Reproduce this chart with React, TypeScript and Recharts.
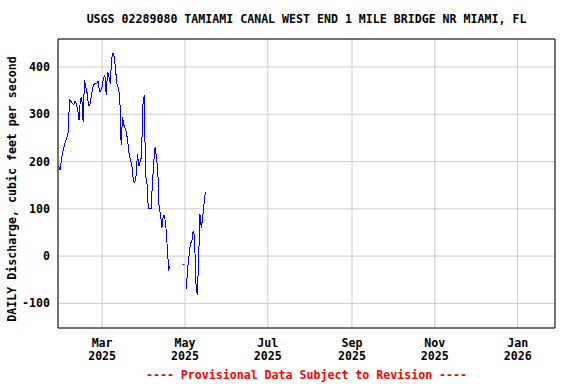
import React from 'react';
import { LineChart, Line, XAxis, YAxis, CartesianGrid, ReferenceArea } from 'recharts';

// day numbers are counted from 1 Jan 2025 (day 0)
const firstDay = 27;
const discharge: (number | null)[] = [
  190, 182, 203, 221, 231, 242, 249, 263, 330, 327,
  323, 320, 328, 323, 309, 288, 334, 335, 284, 372,
  358, 344, 318, 320, 337, 355, 363, 365, 365, 370,
  349, 349, 358, 376, 383, 341, 390, 380, 365, 418,
  429, 422, 390, 362, 355, 337, 235, 295, 277, 270,
  260, 238, 214, 203, 189, 160, 155, 170, 215, 190,
  200, 210, 320, 340, 170, 155, 100, 100, 100, 150,
  200, 230, 210, 180, 100, 90, 60, 85, 85, 60,
  17, -28, -22, null, null, null, null, null, null, null,
  null, null, -18, null, -70, -25, 0, 28, 30, 52,
  45, -55, -82, -15, 90, 60, 80, 110, 135,
];

const monthTicks = [59, 120, 181, 243, 304, 365];
const monthNames = ['Mar', 'May', 'Jul', 'Sep', 'Nov', 'Jan'];
const yearNames = ['2025', '2025', '2025', '2025', '2025', '2026'];
const yTicks = [-100, 0, 100, 200, 300, 400];

const title = 'USGS 02289080 TAMIAMI CANAL WEST END 1 MILE BRIDGE NR MIAMI, FL';
const yTitle = 'DAILY Discharge, cubic feet per second';
const footer = '---- Provisional Data Subject to Revision ----';

const data = discharge.map((v, i) => ({ day: firstDay + i, flow: v }));

const xDomain: [number, number] = [26.5, 392.5];
const yDomain: [number, number] = [-152, 459];

const font = '"DejaVu Sans Mono", monospace';
const gridColor = '#cccccc';

const MonthTick = (props: any) => {
  const { x, payload } = props;
  const i = monthTicks.indexOf(payload.value);
  return (
    <text x={x} y={347} textAnchor="middle" fontFamily={font} fontWeight="bold" fontSize={11.6} fill="#000">
      <tspan x={x}>{monthNames[i]}</tspan>
      <tspan x={x} dy={13}>{yearNames[i]}</tspan>
    </text>
  );
};

const ValueTick = (props: any) => {
  const { y, payload } = props;
  return (
    <text x={50} y={y} dy={4} textAnchor="end" fontFamily={font} fontWeight="bold" fontSize={11.6} fill="#000">
      {payload.value}
    </text>
  );
};

// lone days between gaps get a tiny mark, like the source plot
const LoneDot = (props: any) => {
  const { cx, cy, index } = props;
  const prev = index > 0 ? discharge[index - 1] : null;
  const next = index < discharge.length - 1 ? discharge[index + 1] : null;
  if (cy == null || prev !== null || next !== null) return <g key={index} />;
  return <rect key={index} x={cx - 1} y={cy - 0.5} width={2} height={1} fill="#0000ff" />;
};

const App: React.FC = () => {
  return (
    <div style={{ position: 'absolute', left: 0, top: 0, width: 576, height: 384, background: '#fff' }}>
      <div style={{ position: 'absolute', left: 58, width: 497, top: 12, textAlign: 'center', fontFamily: font, fontWeight: 'bold', fontSize: 11.6, lineHeight: '14px' }}>
        {title}
      </div>
      <div style={{ position: 'absolute', left: 12, top: 189, width: 0, height: 0 }}>
        <div style={{ position: 'absolute', left: -150, top: -7, width: 300, textAlign: 'center', transform: 'rotate(-90deg)', fontFamily: font, fontWeight: 'bold', fontSize: 11.6, lineHeight: '14px', whiteSpace: 'nowrap' }}>
          {yTitle}
        </div>
      </div>
      <div style={{ position: 'absolute', left: 58, width: 497, top: 368, textAlign: 'center', fontFamily: font, fontWeight: 'bold', fontSize: 11.6, lineHeight: '14px', color: '#ff0000' }}>
        {footer}
      </div>
      <LineChart width={576} height={384} data={data} margin={{ top: 39, right: 21, left: 8, bottom: 16 }}>
        <CartesianGrid stroke={gridColor} strokeWidth={1} />
        <XAxis dataKey="day" type="number" domain={xDomain} ticks={monthTicks} allowDataOverflow
          height={40} tickLine={false} axisLine={false} tick={<MonthTick />} interval={0} />
        <YAxis type="number" domain={yDomain} ticks={yTicks} allowDataOverflow width={50}
          tickLine={false} axisLine={false} tick={<ValueTick />} interval={0} />
        <ReferenceArea x1={xDomain[0]} x2={xDomain[1]} y1={yDomain[0]} y2={yDomain[1]}
          fill="none" fillOpacity={0} stroke="#000" strokeWidth={1} ifOverflow="visible" />
        <Line dataKey="flow" type="linear" stroke="#0000ff" strokeWidth={1} dot={LoneDot} activeDot={false}
          connectNulls={false} isAnimationActive={false} shapeRendering="crispEdges" />
      </LineChart>
    </div>
  );
};

export default App;
